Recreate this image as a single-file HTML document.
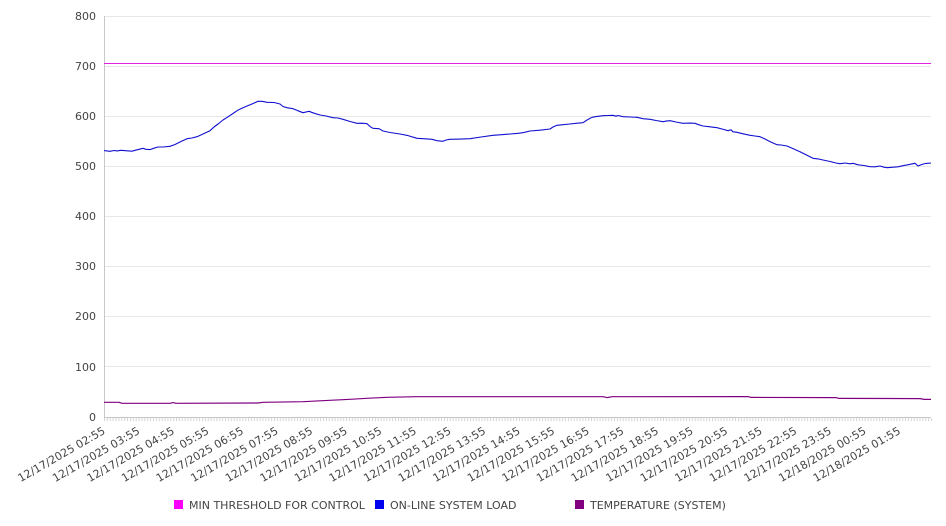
<!DOCTYPE html>
<html><head><meta charset="utf-8"><style>
html,body{margin:0;padding:0;background:#fff;}
svg{display:block;font-family:"DejaVu Sans","Liberation Sans",sans-serif;}
</style></head><body>
<svg width="946" height="526" viewBox="0 0 946 526" xmlns="http://www.w3.org/2000/svg">
<defs>
<pattern id="tk" patternUnits="userSpaceOnUse" x="104" y="417" width="2.8815" height="5">
<rect x="0" y="0" width="1" height="4" fill="#d4d4d4"/>
</pattern>
</defs>
<rect width="946" height="526" fill="#fff"/>
<g fill="#e8e8e8">
<rect x="104" y="16" width="827" height="1"/>
<rect x="104" y="66" width="827" height="1"/>
<rect x="104" y="116" width="827" height="1"/>
<rect x="104" y="166" width="827" height="1"/>
<rect x="104" y="216" width="827" height="1"/>
<rect x="104" y="266" width="827" height="1"/>
<rect x="104" y="316" width="827" height="1"/>
<rect x="104" y="366" width="827" height="1"/>
</g>
<rect x="104" y="16" width="1" height="401" fill="#c8c8c8"/>
<rect x="104" y="417" width="827" height="1" fill="#c8c8c8"/>
<rect x="104" y="418" width="828" height="3" fill="url(#tk)"/>
<g font-size="11" fill="#444" text-anchor="end">
<text x="96" y="20">800</text>
<text x="96" y="70">700</text>
<text x="96" y="120">600</text>
<text x="96" y="170">500</text>
<text x="96" y="220">400</text>
<text x="96" y="270">300</text>
<text x="96" y="320">200</text>
<text x="96" y="371">100</text>
<text x="96" y="421">0</text>
</g>
<rect x="104" y="63" width="827" height="1" fill="#e020e0"/>
<polyline fill="none" stroke="#1010d0" stroke-width="1.1" stroke-linejoin="round" points="104,150.5 105,150.7 110,151.3 114,150.5 117,150.9 121,150.3 127,150.8 132,151.2 137,149.8 143,148.3 146,149.3 150,149.6 154,148.2 158,147 163,147 170,146.3 175,144.5 181,141.5 187,138.7 192,138 197,136.7 203,134 210,130.7 214,127 218,124 223,120 228,116.8 233,113.5 237,110.7 241,108.6 247,106 252,104 258,101.3 262,101.3 267,102.3 274,102.5 280,104 283,106.5 287,107.7 293,108.7 298,110.8 303,112.7 309,111.3 314,113.2 320,115 326,116 333,117.7 338,118 343,119.3 350,121.5 357,123.3 362,123.2 367,123.7 370,126.5 373,128.3 379,128.7 383,131 390,132.5 400,134 408,135.6 417,138.3 425,138.8 432,139.3 437,140.7 443,141.3 446,140 450,139.3 460,139.1 470,138.7 481,137 493,135.3 500,134.8 510,134 517,133.4 523,132.7 530,131 540,130.2 550,129 553,127 557,125.3 563,124.7 570,124 576,123.3 583,122.7 587,120 592,117.3 597,116.4 603,115.7 608,115.5 613,115.3 616,116.2 618,115.5 623,116.7 630,117 637,117.3 643,118.7 650,119.3 656,120.5 663,121.7 667,120.9 670,120.7 676,122 683,123.3 690,123.1 695,123.3 699,124.8 703,126 710,126.8 717,127.7 722,129 728,130.7 731,129.8 733,131.8 737,132.3 743,133.8 750,135.3 755,136 760,136.7 765,139 770,141.6 777,144.7 781,145 787,146 793,148.6 800,151.7 806,154.8 813,158.3 818,158.9 823,160 830,161.5 836,163 840,163.7 845,163 850,163.8 853,163.3 858,164.8 864,165.5 870,166.7 875,166.8 880,166 884,167.2 887,167.7 893,167.2 898,166.8 903,165.7 909,164.6 915,163.3 918,166 922,164.4 926,163.4 931,163"/>
<polyline fill="none" stroke="#800080" stroke-width="1.2" stroke-linejoin="round" points="104,402.3 119,402.3 122,403.3 170,403.3 173,402.6 176,403.3 258,403 263,402.3 303,401.7 330,400.3 350,399.3 367,398.3 387,397.3 417,396.7 603,396.7 607,397.6 612,396.7 748,396.6 751,397.4 836,397.6 839,398.4 920,398.6 924,399.4 931,399.4"/>
<g font-size="11" fill="#444" text-anchor="end">
<text transform="translate(106,433) rotate(-30)">12/17/2025 02:55</text>
<text transform="translate(140.6,433) rotate(-30)">12/17/2025 03:55</text>
<text transform="translate(175.2,433) rotate(-30)">12/17/2025 04:55</text>
<text transform="translate(209.7,433) rotate(-30)">12/17/2025 05:55</text>
<text transform="translate(244.3,433) rotate(-30)">12/17/2025 06:55</text>
<text transform="translate(278.9,433) rotate(-30)">12/17/2025 07:55</text>
<text transform="translate(313.5,433) rotate(-30)">12/17/2025 08:55</text>
<text transform="translate(348.1,433) rotate(-30)">12/17/2025 09:55</text>
<text transform="translate(382.6,433) rotate(-30)">12/17/2025 10:55</text>
<text transform="translate(417.2,433) rotate(-30)">12/17/2025 11:55</text>
<text transform="translate(451.8,433) rotate(-30)">12/17/2025 12:55</text>
<text transform="translate(486.4,433) rotate(-30)">12/17/2025 13:55</text>
<text transform="translate(521,433) rotate(-30)">12/17/2025 14:55</text>
<text transform="translate(555.5,433) rotate(-30)">12/17/2025 15:55</text>
<text transform="translate(590.1,433) rotate(-30)">12/17/2025 16:55</text>
<text transform="translate(624.7,433) rotate(-30)">12/17/2025 17:55</text>
<text transform="translate(659.3,433) rotate(-30)">12/17/2025 18:55</text>
<text transform="translate(693.9,433) rotate(-30)">12/17/2025 19:55</text>
<text transform="translate(728.4,433) rotate(-30)">12/17/2025 20:55</text>
<text transform="translate(763,433) rotate(-30)">12/17/2025 21:55</text>
<text transform="translate(797.6,433) rotate(-30)">12/17/2025 22:55</text>
<text transform="translate(832.2,433) rotate(-30)">12/17/2025 23:55</text>
<text transform="translate(866.8,433) rotate(-30)">12/18/2025 00:55</text>
<text transform="translate(901.3,433) rotate(-30)">12/18/2025 01:55</text>
</g>
<g font-size="11" fill="#444">
<rect x="174" y="500" width="9" height="9" fill="#ff00ff"/>
<text x="189" y="509">MIN THRESHOLD FOR CONTROL</text>
<rect x="375" y="500" width="9" height="9" fill="#0000ee"/>
<text x="390" y="509">ON-LINE SYSTEM LOAD</text>
<rect x="575" y="500" width="9" height="9" fill="#800080"/>
<text x="590" y="509">TEMPERATURE (SYSTEM)</text>
</g>
</svg>
</body></html>
